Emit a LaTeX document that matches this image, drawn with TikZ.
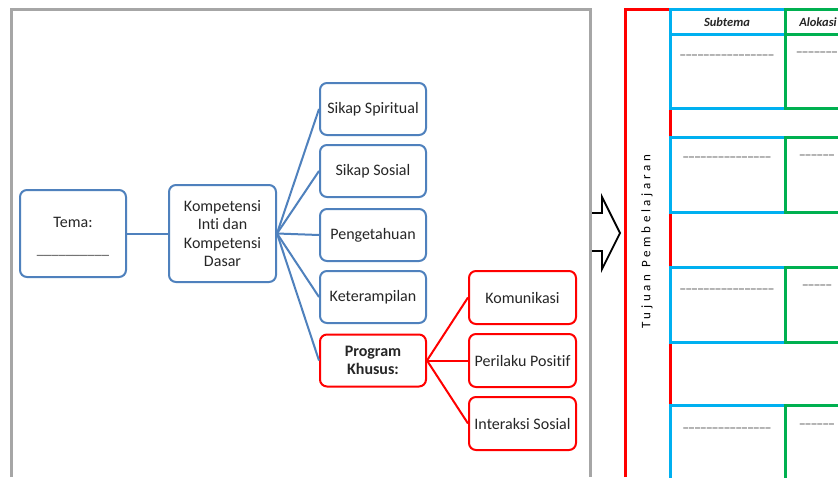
\documentclass[tikz,border=0pt]{standalone}
\usepackage{fontspec}
\setmainfont{Carlito}[Ligatures=NoCommon]
\definecolor{kblue}{RGB}{79,129,189}
\definecolor{kred}{RGB}{255,0,0}
\definecolor{kcyan}{RGB}{0,176,240}
\definecolor{kgreen}{RGB}{0,176,80}
\definecolor{kgray}{RGB}{166,166,166}
\definecolor{ktxt}{RGB}{38,38,38}
\definecolor{kdash}{RGB}{70,70,70}
\newcommand\lsp{\hspace{3.6pt}}
\newcommand\us{\_\hspace{0.9pt}}
\begin{document}
\begin{tikzpicture}[x=1pt,y=-1pt,
  bbox/.style={draw=kblue, line width=2pt, rounded corners=7pt, fill=white,
    minimum width=106pt, minimum height=52pt, inner sep=2pt, align=center,
    font=\fontsize{16}{18.5}\selectfont, text=ktxt},
  rbox/.style={bbox, draw=kred},
  bline/.style={draw=kblue, line width=2pt},
  rline/.style={draw=kred, line width=2pt},
  frame/.style={draw=kgray, line width=3pt},
  redl/.style={draw=kred, line width=3pt},
  cyanl/.style={draw=kcyan, line width=3pt},
  greenl/.style={draw=kgreen, line width=3pt},
  hdr/.style={font=\fontsize{12.5}{14}\selectfont\bfseries\itshape, text=ktxt},
  dashtxt/.style={font=\fontsize{10}{12}\selectfont\bfseries, text=kdash, anchor=base, inner sep=0pt},
  lbl/.style={font=\fontsize{16}{18.5}\selectfont, text=ktxt, inner sep=0pt}
]
\useasboundingbox (0,0) rectangle (838,477);
\fill[white] (0,0) rectangle (838,477);

% block arrow
\draw[line width=1.8pt, line join=miter] (590,213) -- (602,213) -- (602,197) -- (620,233) -- (602,269) -- (602,251) -- (590,251);

% gray frame
\draw[frame] (11,477) -- (11,9) -- (590,9) -- (590,477);

% left diagram
\node[bbox, minimum height=87pt] (tema) at (73,233.5) {};
\node[lbl, anchor=base] (temat) at (73,227) {Tema:};
\node[dashtxt, font=\fontsize{14.5}{16}\selectfont\bfseries, text=kgray!70!black] (temal) at (73,254.5) {\_\_\_\_\_\_\_\_\_\_};
\node[bbox, minimum width=107pt, minimum height=97pt] (ki) at (222.5,233.5) {Kompetensi\\Inti dan\\Kompetensi\\Dasar};

\node[bbox] (ss) at (373,109) {Sikap Spiritual};
\node[bbox] (so) at (373,171) {Sikap Sosial};
\node[bbox] (pe) at (373,235) {Pengetahuan};
\node[bbox] (ke) at (373,297) {Keterampilan};
\node[rbox, font=\fontsize{16}{18.5}\selectfont\bfseries] (pk) at (373,360.5) {Program\\Khusus:};

\node[rbox, minimum width=107pt, minimum height=53pt] (ko) at (522.5,297.5) {Komunikasi};
\node[rbox, minimum width=107pt, minimum height=53pt] (pp) at (522.5,360.5) {Perilaku Positif};
\node[rbox, minimum width=107pt, minimum height=53pt] (is) at (522.5,423.5) {Interaksi Sosial};

\draw[bline] (tema.east) -- (ki.west);
\foreach \t in {ss,so,pe,ke,pk} \draw[bline] (ki.east) -- (\t.west);
\foreach \t in {ko,pp,is} \draw[rline] (pk.east) -- (\t.west);

% right table
\draw[redl] (625,477) -- (625,9) -- (670,9);
\draw[redl] (670,108) -- (670,137);
\draw[redl] (670,212) -- (670,267);
\draw[redl] (670,342) -- (670,405);

\draw[cyanl] (670,9) rectangle (785,108);
\draw[cyanl] (670,34) -- (785,34);
\draw[greenl] (840,9) -- (785,9) -- (785,108) -- (840,108);
\draw[greenl] (785,34) -- (840,34);

\draw[cyanl] (670,137) rectangle (785,212);
\draw[greenl] (840,137) -- (785,137) -- (785,212) -- (840,212);

\draw[cyanl] (670,267) rectangle (785,342);
\draw[greenl] (840,267) -- (785,267) -- (785,342) -- (840,342);

\draw[cyanl] (785,405) -- (670,405) -- (670,480);
\draw[greenl] (840,405) -- (785,405) -- (785,480);

\node[hdr] (sub) at (727,22) {Subtema};
\node[hdr] (alo) at (818,22) {Alokasi};

\node[dashtxt] (d1) at (727,54) {\us\us\us\us\us\us\us\us\us\us\us\us\us\us\us\us};
\node[dashtxt] (g1) at (817,51) {\us\us\us\us\us\us\us};
\node[dashtxt] (d2) at (727,156) {\us\us\us\us\us\us\us\us\us\us\us\us\us\us\us};
\node[dashtxt] (g2) at (817,154) {\us\us\us\us\us\us};
\node[dashtxt] (d3) at (727,288) {\us\us\us\us\us\us\us\us\us\us\us\us\us\us\us\us};
\node[dashtxt] (g3) at (817,284) {\us\us\us\us\us};
\node[dashtxt] (d4) at (727,427) {\us\us\us\us\us\us\us\us\us\us\us\us\us\us\us};
\node[dashtxt] (g4) at (817,423) {\us\us\us\us\us\us};

\node[rotate=90, font=\fontsize{13}{15}\selectfont, text=black, inner sep=0pt] (tp) at (647,242)
  {T\lsp u\lsp j\lsp u\lsp a\lsp n\lsp\lsp P\lsp e\lsp m\lsp b\lsp e\lsp l\lsp a\lsp j\lsp a\lsp r\lsp a\lsp n};
\end{tikzpicture}
\end{document}
